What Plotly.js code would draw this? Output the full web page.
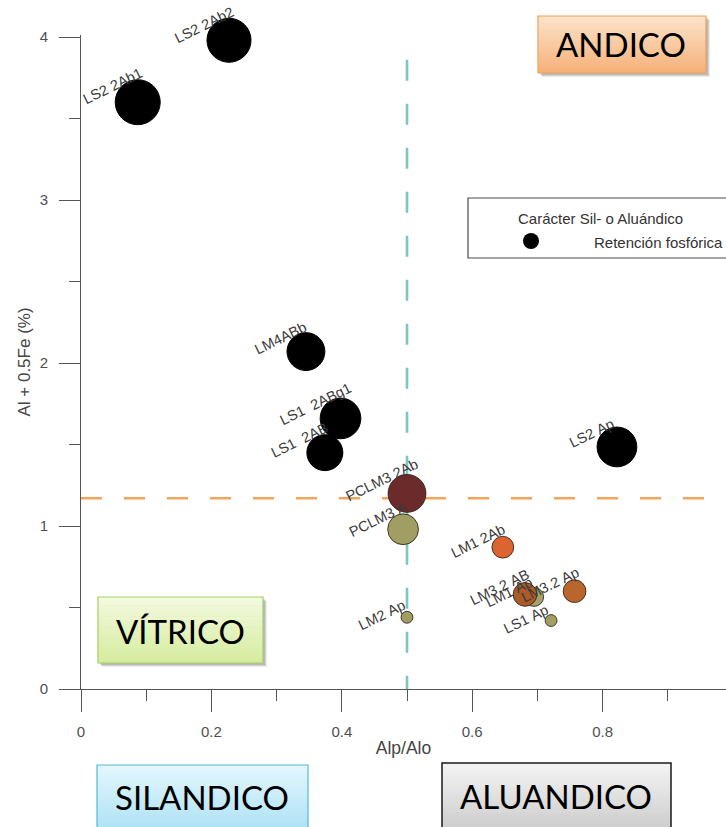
<!DOCTYPE html>
<html>
<head>
<meta charset="utf-8">
<script src="https://cdn.plot.ly/plotly-3.0.1.min.js"></script>
<style>
  html, body { margin: 0; padding: 0; background: #ffffff; }
  #chart { width: 726px; height: 827px; }
</style>
</head>
<body>
<div id="chart"></div>
<script>
// Horizons: Alp/Alo ratio, Al + 0.5Fe (%) and phosphate retention (%)
const horizons  = ['LS2 2Ab1', 'LS2 2Ab2', 'LM4ABb', 'LS1  2AB', 'LS1  2ABg1', 'LS2 Ap',
                   'PCLM3 A', 'PCLM3 2Ab', 'LM1 2Ab', 'LM1 Ap', 'LM3.2 AB', 'LM3.2 Ap',
                   'LS1 Ap', 'LM2 Ap'];
const alpAlo    = [0.087, 0.227, 0.345, 0.374, 0.398, 0.822,
                   0.494, 0.500, 0.647, 0.695, 0.681, 0.757,
                   0.721, 0.500];
const alFe      = [3.60, 3.98, 2.07, 1.45, 1.66, 1.485,
                   0.98, 1.20, 0.87, 0.565, 0.58, 0.60,
                   0.42, 0.44];
const retention = [95, 93, 80, 76, 86, 84,
                   65, 80, 46, 40, 50, 48,
                   25, 25];

// Threshold lines
const alpAloLimit = 0.5;
const alFeLimit = 1.17;
const alpAloLineTop = 3.86;

// Axis ticks
const xTicks = [0, 0.2, 0.4, 0.6, 0.8];
const yTicks = [0, 1, 2, 3, 4];

// Region labels
const regionLabels = ['ANDICO', 'VÍTRICO', 'SILANDICO', 'ALUANDICO'];
const legendTitle = 'Carácter Sil- o Aluándico';
const legendItem = 'Retención fosfórica';

// Fill colour per horizon
const horizonColors = {
  'LS2 2Ab1': '#000000', 'LS2 2Ab2': '#000000', 'LM4ABb': '#000000',
  'LS1  2AB': '#000000', 'LS1  2ABg1': '#000000', 'LS2 Ap': '#000000',
  'PCLM3 A': '#a09e63', 'PCLM3 2Ab': '#6c2b2b', 'LM1 2Ab': '#dc6430',
  'LM1 Ap': '#a4a26b', 'LM3.2 AB': '#aa5b27', 'LM3.2 Ap': '#b8662d',
  'LS1 Ap': '#a09e63', 'LM2 Ap': '#a09e63'
};

// ---- geometry of the figure (pixels) ----
const W = 726, H = 827;
const M = { l: 81, r: 0, t: 35, b: 138 };
const PW = W - M.l - M.r, PH = H - M.t - M.b;
const X_PER_UNIT = 652, Y_PER_UNIT = 163;
const px2x = px => (px - M.l) / PW;
const py2y = py => (H - M.b - py) / PH;

const SIZEREF = 95 / 45;
const diam = retention.map(v => v / SIZEREF);

const FONT = 'Liberation Sans, Arial, sans-serif';
const BOX_FONT = 'Lato, Calibri, sans-serif';

function mix(c1, c2, t) {
  const a = parseInt(c1.slice(1), 16), b = parseInt(c2.slice(1), 16);
  const ch = s => [(s >> 16) & 255, (s >> 8) & 255, s & 255];
  const A = ch(a), B = ch(b);
  const r = A.map((v, i) => Math.round(v + (B[i] - v) * t));
  return 'rgb(' + r.join(',') + ')';
}

// Shaded label box built from thin horizontal bands
function shadedBox(x0, x1, y0, y1, top, bottom, border, borderWidth, shadow) {
  const out = [];
  if (shadow) {
    [[4, 0.08], [3, 0.10], [2, 0.12]].forEach(([o, a]) => {
      out.push({ type: 'rect', xref: 'paper', yref: 'paper', layer: 'above',
        x0: px2x(x0 + o), x1: px2x(x1 + o), y0: py2y(y0 + o), y1: py2y(y1 + o),
        line: { width: 0 }, fillcolor: 'rgba(0,0,0,' + a + ')' });
    });
  }
  const n = 24;
  for (let i = 0; i < n; i++) {
    const a = y0 + (y1 - y0) * i / n, b = y0 + (y1 - y0) * (i + 1) / n + 0.6;
    out.push({ type: 'rect', xref: 'paper', yref: 'paper', layer: 'above',
      x0: px2x(x0), x1: px2x(x1), y0: py2y(a), y1: py2y(Math.min(b, y1)),
      line: { width: 0 }, fillcolor: mix(top, bottom, (i + 0.5) / n) });
  }
  out.push({ type: 'rect', xref: 'paper', yref: 'paper', layer: 'above',
    x0: px2x(x0), x1: px2x(x1), y0: py2y(y0), y1: py2y(y1),
    line: { color: border, width: borderWidth }, fillcolor: 'rgba(0,0,0,0)' });
  return out;
}

const trace = {
  type: 'scatter',
  mode: 'markers',
  x: alpAlo,
  y: alFe,
  text: horizons,
  cliponaxis: false,
  showlegend: false,
  hoverinfo: 'text+x+y',
  marker: {
    size: retention,
    sizemode: 'diameter',
    sizeref: SIZEREF,
    color: horizons.map(h => horizonColors[h]),
    opacity: 1,
    line: {
      color: horizons.map(h => horizonColors[h] === '#000000' ? '#000000' : 'rgba(45,35,25,0.85)'),
      width: 1
    }
  }
};

const labelAnnotations = horizons.map((h, i) => {
  const r = diam[i] / 2;
  return {
    x: alpAlo[i], y: alFe[i], xref: 'x', yref: 'y',
    text: h.replace(/ /g, '&nbsp;'), showarrow: false, textangle: -26,
    xshift: -25, yshift: 0.85 * r - 3,
    font: { family: FONT, size: 14.5, color: '#3a3a3a' }
  };
});

const boxes = [
  { label: regionLabels[0], x0: 538, x1: 706, y0: 16, y1: 73, top: '#fde4cb', bottom: '#f6b078', border: '#f0a058', bw: 1.2, shadow: true, tx: 621, ty: 44 },
  { label: regionLabels[1], x0: 98, x1: 263, y0: 597, y1: 663, top: '#f4fae0', bottom: '#d5ec9e', border: '#a6cf62', bw: 1.2, shadow: true, tx: 180, ty: 631 },
  { label: regionLabels[2], x0: 97, x1: 308, y0: 765, y1: 840, top: '#e4f6fd', bottom: '#a4def4', border: '#55b8d8', bw: 1.2, shadow: false, tx: 202, ty: 797 },
  { label: regionLabels[3], x0: 442, x1: 671, y0: 763, y1: 840, top: '#f4f4f4', bottom: '#c6c6c6', border: '#1a1a1a', bw: 1.5, shadow: false, tx: 556, ty: 796 }
];

let shapes = [
  // Al + 0.5Fe threshold
  { type: 'line', xref: 'paper', yref: 'y', layer: 'below',
    x0: 0, x1: 1, y0: alFeLimit, y1: alFeLimit,
    line: { color: '#f3a55c', width: 2.6, dash: '21px,22px' } },
  // Alp/Alo threshold
  { type: 'line', xref: 'x', yref: 'y', layer: 'below',
    x0: alpAloLimit, x1: alpAloLimit, y0: alpAloLineTop, y1: 0,
    line: { color: '#7ec6c4', width: 2.6, dash: '21px,23px' } }
];

boxes.forEach(b => { shapes = shapes.concat(shadedBox(b.x0, b.x1, b.y0, b.y1, b.top, b.bottom, b.border, b.bw, b.shadow)); });

// Legend frame and symbol
shapes.push({ type: 'rect', xref: 'paper', yref: 'paper', layer: 'above',
  x0: px2x(468), x1: px2x(740), y0: py2y(198), y1: py2y(258),
  line: { color: '#4a4a4a', width: 1.2 }, fillcolor: '#ffffff' });
shapes.push({ type: 'circle', xref: 'paper', yref: 'paper', layer: 'above',
  xsizemode: 'pixel', ysizemode: 'pixel', xanchor: px2x(531), yanchor: py2y(241),
  x0: -8, x1: 8, y0: -8, y1: 8, fillcolor: '#000000', line: { color: '#000000', width: 0 } });

const boxAnnotations = boxes.map(b => ({
  xref: 'paper', yref: 'paper', x: px2x(b.tx), y: py2y(b.ty),
  xanchor: 'center', yanchor: 'middle', showarrow: false, text: b.label,
  font: { family: BOX_FONT, size: 33, color: '#000000' }
}));

const legendAnnotations = [
  { xref: 'paper', yref: 'paper', x: px2x(600), y: py2y(218), xanchor: 'center', yanchor: 'middle',
    showarrow: false, text: legendTitle, font: { family: FONT, size: 15, color: '#333333' } },
  { xref: 'paper', yref: 'paper', x: px2x(592), y: py2y(242), xanchor: 'left', yanchor: 'middle',
    showarrow: false, text: legendItem, font: { family: FONT, size: 15, color: '#333333' } }
];

const layout = {
  width: W, height: H,
  margin: M,
  paper_bgcolor: '#ffffff', plot_bgcolor: '#ffffff',
  font: { family: FONT, color: '#555555' },
  showlegend: false,
  xaxis: {
    range: [0, PW / X_PER_UNIT],
    tickvals: xTicks, ticktext: xTicks.map(String),
    ticks: 'outside', ticklen: 22, tickwidth: 1, tickcolor: '#555555',
    minor: { ticks: 'outside', ticklen: 11, dtick: 0.1, tick0: 0, tickcolor: '#555555', tickwidth: 1, showgrid: false },
    showline: true, linecolor: '#555555', linewidth: 1,
    showgrid: false, zeroline: false,
    tickfont: { family: FONT, size: 15, color: '#505050' },
    ticklabelstandoff: 7,
    title: { text: 'Alp/Alo', font: { family: FONT, size: 17.5, color: '#444444' }, standoff: 2 },
    automargin: false
  },
  yaxis: {
    range: [0, PH / Y_PER_UNIT],
    tickvals: yTicks, ticktext: yTicks.map(String),
    ticks: 'outside', ticklen: 21, tickwidth: 1, tickcolor: '#555555',
    minor: { ticks: 'outside', ticklen: 11, dtick: 0.5, tick0: 0, tickcolor: '#555555', tickwidth: 1, showgrid: false },
    showline: true, linecolor: '#555555', linewidth: 1,
    showgrid: false, zeroline: false,
    tickfont: { family: FONT, size: 15, color: '#505050' },
    ticklabelstandoff: 8,
    title: { text: 'Al + 0.5Fe (%)', font: { family: FONT, size: 17, color: '#444444' }, standoff: 4 },
    automargin: false
  },
  shapes: shapes,
  annotations: labelAnnotations.concat(legendAnnotations, boxAnnotations)
};

Plotly.newPlot('chart', [trace], layout, { displayModeBar: false, staticPlot: true });
</script>
</body>
</html>
